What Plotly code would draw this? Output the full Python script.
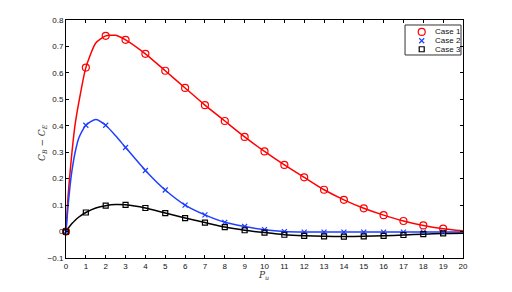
import plotly.graph_objects as go

# Marker samples (integer P_u)
x_pts = list(range(0, 20))
case1 = [0.0, 0.62, 0.74, 0.725, 0.672, 0.608, 0.543, 0.478, 0.418, 0.358,
         0.303, 0.252, 0.205, 0.158, 0.120, 0.088, 0.062, 0.040, 0.023, 0.011]
case2 = [0.0, 0.402, 0.402, 0.318, 0.231, 0.157, 0.100, 0.063, 0.035, 0.019,
         0.007, 0.0, -0.002, -0.002, -0.002, -0.002, -0.002, -0.002, -0.002, -0.002]
case3 = [0.0, 0.072, 0.098, 0.101, 0.089, 0.070, 0.051, 0.034, 0.017, 0.005,
         -0.004, -0.012, -0.016, -0.018, -0.019, -0.018, -0.016, -0.013, -0.010, -0.007]

# Curve samples (smooth lines), including extra read points
x_line = [0, 0.1, 0.2, 0.3, 0.45, 0.65, 1, 1.5, 2, 2.5, 3, 4, 5, 6, 7, 8, 9, 10, 11,
          12, 13, 14, 15, 16, 17, 18, 19, 20]
case1_line = [0.0, 0.13, 0.22, 0.30, 0.40, 0.49, 0.62, 0.713, 0.74, 0.742, 0.725,
              0.672, 0.608, 0.543, 0.478, 0.418, 0.358, 0.303, 0.252, 0.205, 0.158,
              0.120, 0.088, 0.062, 0.040, 0.023, 0.011, 0.003]
case2_line = [0.0, 0.094, 0.17, 0.23, 0.296, 0.355, 0.402, 0.424, 0.402, 0.362, 0.318,
              0.231, 0.157, 0.100, 0.063, 0.035, 0.019, 0.007, 0.0, -0.002, -0.002,
              -0.002, -0.002, -0.002, -0.002, -0.002, -0.002, -0.002]
case3_line = [0.0, 0.011, 0.021, 0.030, 0.042, 0.055, 0.072, 0.089, 0.098, 0.102, 0.101,
              0.089, 0.070, 0.051, 0.034, 0.017, 0.005, -0.004, -0.012, -0.016, -0.018,
              -0.019, -0.018, -0.016, -0.013, -0.010, -0.007, -0.006]

names = ["Case 1", "Case 2", "Case 3"]
colors = ["#ff0000", "#1f3fff", "#000000"]
symbols = ["circle-open", "x-thin-open", "square-open"]
sizes = [7, 5, 5]
pts_all = [case1, case2, case3]
lines_all = [case1_line, case2_line, case3_line]

fig = go.Figure()
for line, color in zip(lines_all, colors):
    fig.add_trace(go.Scatter(x=x_line, y=line, mode="lines",
                             line=dict(color=color, width=1.5, shape="spline", smoothing=0.6),
                             showlegend=False, hoverinfo="skip", cliponaxis=False))
for name, pts, color, sym, size in zip(names, pts_all, colors, symbols, sizes):
    fig.add_trace(go.Scatter(x=x_pts, y=pts, mode="markers", name=name,
                             marker=dict(symbol=sym, size=size, color=color,
                                         line=dict(color=color, width=1.2)),
                             cliponaxis=False, showlegend=False))

# Compact legend (MATLAB style) drawn on an overlay axis in [0,1] space
leg_x0, leg_x1, leg_y0, leg_y1 = 0.854, 0.995, 0.853, 0.979
leg_sym_x = 0.896
leg_txt_x = 0.925
leg_rows = [0.950, 0.913, 0.877]
fig.add_shape(type="rect", xref="paper", yref="paper", x0=leg_x0, x1=leg_x1,
              y0=leg_y0, y1=leg_y1, line=dict(color="#333", width=1), fillcolor="white",
              layer="below")
for name, color, sym, size, ry in zip(names, colors, symbols, sizes, leg_rows):
    fig.add_trace(go.Scatter(x=[leg_sym_x], y=[ry], xaxis="x2", yaxis="y2", mode="markers",
                             marker=dict(symbol=sym, size=size, color=color,
                                         line=dict(color=color, width=1.2)),
                             showlegend=False, hoverinfo="skip"))
    fig.add_annotation(x=leg_txt_x, y=ry, xref="paper", yref="paper", text=name,
                       showarrow=False, xanchor="left", yanchor="middle",
                       font=dict(family="Liberation Sans, Arial", size=8, color="#111"))

tick_font = dict(family="Liberation Sans, Arial", size=8, color="#111")
axis_common = dict(showgrid=False, zeroline=False, showline=True, linecolor="#000000",
                   linewidth=1, mirror="ticks", ticks="inside", ticklen=3,
                   tickcolor="#000000", tickfont=tick_font, automargin=False)

fig.update_layout(
    width=504, height=284,
    margin=dict(l=58, r=49, t=12, b=34),
    paper_bgcolor="white", plot_bgcolor="white",
    xaxis=dict(range=[0, 20], dtick=1, tick0=0, **axis_common),
    yaxis=dict(range=[-0.1, 0.8], dtick=0.1, tick0=0, **axis_common),
    xaxis2=dict(range=[0, 1], overlaying="x", visible=False, fixedrange=True),
    yaxis2=dict(range=[0, 1], overlaying="y", visible=False, fixedrange=True),
    showlegend=False,
)

# Axis titles
fig.add_annotation(x=(263 - 66) / 397, y=(258 - 275) / 238, xref="paper", yref="paper",
                   xanchor="center", yanchor="middle",
                   text="<i>P<sub>u</sub></i>", showarrow=False,
                   font=dict(family="DejaVu Serif", size=9, color="#333"))
fig.add_annotation(x=(42 - 66) / 397, y=(258 - 143) / 238, xref="paper", yref="paper",
                   xanchor="center", yanchor="middle",
                   text="<i>C<sub>B</sub></i> − <i>C<sub>E</sub></i>", showarrow=False,
                   textangle=-90,
                   font=dict(family="DejaVu Serif", size=9, color="#333"))

fig.write_html("out.html")
